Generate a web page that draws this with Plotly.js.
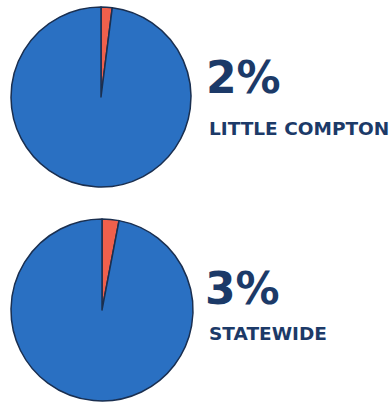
<!DOCTYPE html>
<html>
<head>
<meta charset="utf-8">
<script src="https://cdn.plot.ly/plotly-3.0.1.min.js"></script>
<style>html,body{margin:0;padding:0;background:#fff;}#chart{width:392px;height:406px;}</style>
</head>
<body>
<div id="chart"></div>
<script>
const categories = ["Share", "Rest"];
const littleCompton = [2, 98];
const statewide = [3, 97];
const percentLabels = ["2%", "3%"];
const placeLabels = ["LITTLE COMPTON", "STATEWIDE"];

const W = 392, H = 406;
const px = v => v / W;
const py = v => 1 - v / H;

const sliceColors = ["#f0604c", "#2a70c2"];
const navy = "#1c3a68";

function pieTrace(values, x0, x1, y0, y1) {
  return {
    type: "pie",
    labels: categories,
    values: values,
    sort: false,
    direction: "clockwise",
    rotation: 0,
    textinfo: "none",
    hoverinfo: "label+percent",
    marker: {colors: sliceColors, line: {color: "#1a2f50", width: 1.5}},
    domain: {x: [px(x0), px(x1)], y: [py(y1), py(y0)]},
    showlegend: false
  };
}

const data = [
  pieTrace(littleCompton, 11, 191, 7, 187),
  pieTrace(statewide, 11, 193, 219, 401)
];

const annotations = [
  {text: percentLabels[0], x: px(204), y: py(96), xanchor: "left", yanchor: "bottom", font: {size: 44}, yshift: -9},
  {text: placeLabels[0], x: px(207), y: py(137), xanchor: "left", yanchor: "bottom", font: {size: 18.5}, yshift: -4},
  {text: percentLabels[1], x: px(203), y: py(307), xanchor: "left", yanchor: "bottom", font: {size: 44}, yshift: -9},
  {text: placeLabels[1], x: px(207), y: py(342), xanchor: "left", yanchor: "bottom", font: {size: 18.5}, yshift: -4}
].map(a => Object.assign({xref: "paper", yref: "paper", showarrow: false}, a, {
  font: Object.assign({family: "DejaVu Sans", weight: "bold", color: navy}, a.font),
  text: "<b>" + a.text + "</b>"
}));

const layout = {
  width: W, height: H,
  margin: {l: 0, r: 0, t: 0, b: 0},
  paper_bgcolor: "#ffffff",
  plot_bgcolor: "#ffffff",
  annotations: annotations
};

Plotly.newPlot("chart", data, layout, {displayModeBar: false, staticPlot: true});
</script>
</body>
</html>
